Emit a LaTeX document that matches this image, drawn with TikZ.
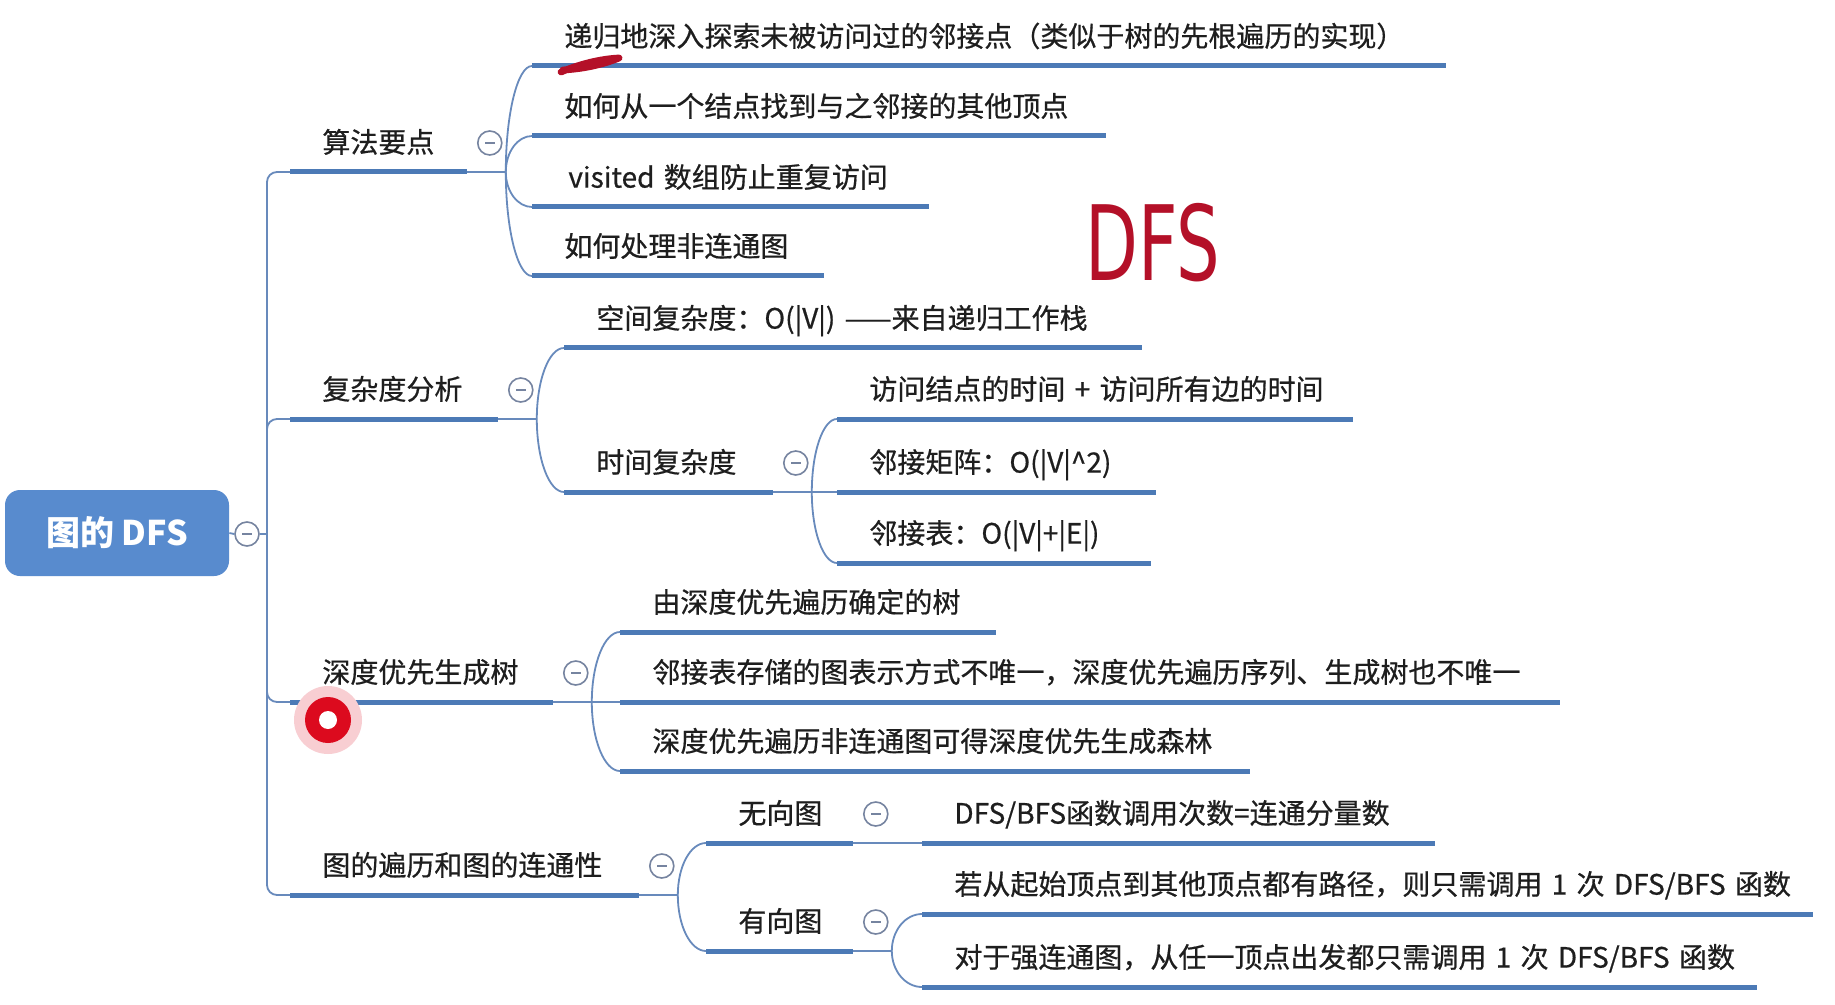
\documentclass[tikz,border=0pt]{standalone}
\usepackage{fontspec}
\newfontfamily\cjk{Noto Sans CJK SC}
\newfontfamily\cjktopic{Noto Sans CJK SC}[FakeBold=0.6]
\newfontfamily\inkfont{DejaVu Sans}
\usetikzlibrary{calc}
\definecolor{rootblue}{RGB}{88,139,206}
\definecolor{barblue}{RGB}{76,122,182}
\definecolor{linkblue}{RGB}{104,138,188}
\definecolor{foldgray}{RGB}{118,132,160}
\definecolor{inkgray}{RGB}{30,30,30}
\definecolor{penred}{RGB}{180,16,40}
\definecolor{cursorred}{RGB}{220,10,30}
\tikzset{
    rootbox/.style={rectangle,rounded corners=7.5pt,fill=rootblue,text=white,
        minimum width=112pt,minimum height=43pt,
        font=\cjk\bfseries\fontsize{17pt}{20pt}\selectfont},
    uline/.style={line width=2.5pt,barblue},
    topic/.style={anchor=south west,inner xsep=0pt,inner ysep=6pt,
        text width=#1,align=left,text height=10.5pt,text depth=3.5pt,
        text=inkgray,font=\cjktopic\fontsize{14pt}{17pt}\selectfont,
        execute at begin node={\hspace*{16pt}},
        append after command={(\tikzlastnode.south west) edge[uline] (\tikzlastnode.south east)}},
    link/.style={line width=0.9pt,linkblue},
    trunkline/.style={link,rounded corners=5pt},
    fold/.style={circle,draw=foldgray,line width=0.8pt,fill=white,
        minimum size=12pt,inner sep=0pt,
        path picture={\draw[foldgray,line width=0.8pt]
            ([xshift=-2.4pt]path picture bounding box.center) --
            ([xshift=2.4pt]path picture bounding box.center);}},
    redink/.style={penred,line width=3.4pt,line cap=round,line join=round}
}
\begin{document}
\begin{tikzpicture}[x=0.5pt,y=-0.5pt]
    \fill[white] (0,0) rectangle (1835,1005);
    \useasboundingbox (0,0) rectangle (1835,1005);
    % Root
    \node[rootbox] (root) at (117,533) {图的 DFS};
    \node[fold] (rootf) at (247,534) {};
    \coordinate (trunk) at (267,534);
    \draw[link] (root.east) -- (rootf.west);
    \draw[link] (rootf.east) -- (trunk);
    % First level
    \node[topic=88pt] (key) at (290,172) {算法要点};
    \node[topic=103.5pt] (cost) at (290,419) {复杂度分析};
    \node[topic=131pt] (span) at (290,702) {深度优先生成树};
    \node[topic=174pt] (conn) at (290,895) {图的遍历和图的连通性};
    % Algorithm points
    \node[topic=456.5pt] (key1) at (532,66) {递归地深入探索未被访问过的邻接点（类似于树的先根遍历的实现）};
    \node[topic=286.5pt] (key2) at (532,136) {如何从一个结点找到与之邻接的其他顶点};
    \node[topic=198pt] (key3) at (532,207) {\kern2pt visited 数组防止重复访问};
    \node[topic=145.5pt] (key4) at (532,276) {如何处理非连通图};
    % Complexity
    \node[topic=288.5pt] (space) at (564,348) {空间复杂度：O(|V|) ——来自递归工作栈};
    \node[topic=104pt] (time) at (564,492) {时间复杂度};
    \node[topic=257.5pt] (time1) at (837,419) {访问结点的时间 + 访问所有边的时间};
    \node[topic=159pt] (time2) at (837,492) {邻接矩阵：O(|V|\^{}2)};
    \node[topic=156.5pt] (time3) at (837,563) {邻接表：O(|V|+|E|)};
    % Spanning tree
    \node[topic=187.5pt] (span1) at (620,632) {由深度优先遍历确定的树};
    \node[topic=469.5pt] (span2) at (620,702) {邻接表存储的图表示方式不唯一，深度优先遍历序列、生成树也不唯一};
    \node[topic=314.5pt] (span3) at (620,771) {深度优先遍历非连通图可得深度优先生成森林};
    % Connectivity
    \node[topic=73pt] (undir) at (706,843) {无向图};
    \node[topic=73pt] (dir) at (706,951) {有向图};
    \node[topic=256pt] (undir1) at (922,843) {DFS/BFS函数调用次数=连通分量数};
    \node[topic=445pt] (dir1) at (922,914) {若从起始顶点到其他顶点都有路径，则只需调用 1 次 DFS/BFS 函数};
    \node[topic=417pt] (dir2) at (922,987) {对于强连通图，从任一顶点出发都只需调用 1 次 DFS/BFS 函数};
    % Trunk
    \foreach \n in {key,cost,span,conn}
        \draw[trunkline] (trunk) |- (\n.south west);
    % Folds and forks
    \foreach \n in {key,cost,span,conn,time,undir,dir} {
        \node[fold] (\n-f) at ($(\n.south east)+(23,-29)$) {};
        \coordinate (\n-k) at ($(\n.south east)+(39,0)$);
        \draw[link] (\n.south east) -- (\n-k);
    }
    % Branches (quarter ellipses)
    \foreach \p/\cs in {key/{key1,key2,key3,key4},cost/{space,time},
            time/{time1,time2,time3},span/{span1,span2,span3},
            conn/{undir,dir},undir/{undir1},dir/{dir1,dir2}}
        \foreach \c in \cs
            \draw[link] (\p-k) .. controls ($(\p-k)!0.552!(\p-k |- \c.south west)$)
                and ($(\c.south west)!0.552!(\p-k |- \c.south west)$) .. (\c.south west);
    % Handwritten notes
    \node[text=penred,font=\inkfont\fontsize{52pt}{52pt}\selectfont,xscale=0.66] (note) at (1153,243) {DFS};
    \draw[redink] (561,72) .. controls (580,64) and (600,59) .. (619,58)
        .. controls (602,65) and (582,69) .. (563,70);
    % Pointer
    \coordinate (cursor) at (328,720);
    \fill[cursorred!20] (cursor) circle (17pt);
    \fill[cursorred] (cursor) circle (11.5pt);
    \fill[white] (cursor) circle (4.5pt);
\end{tikzpicture}
\end{document}
